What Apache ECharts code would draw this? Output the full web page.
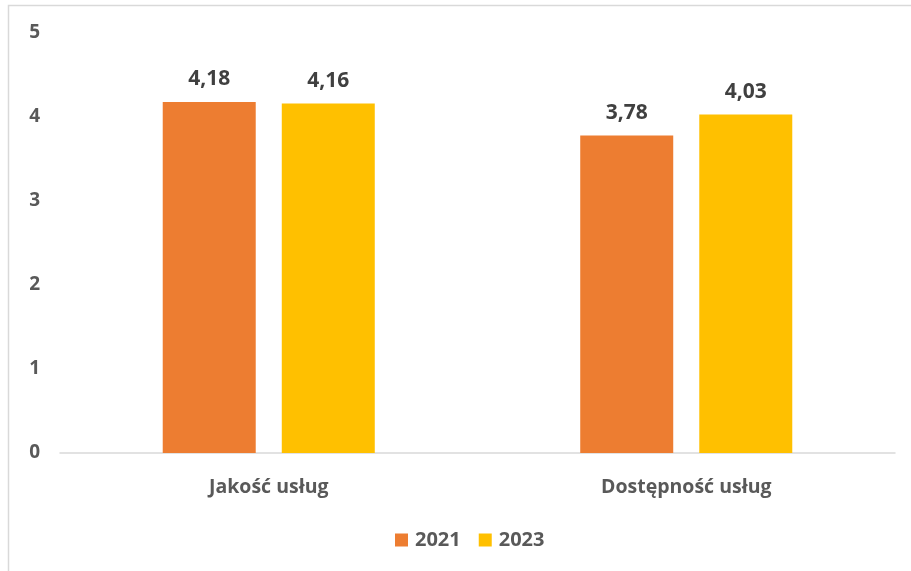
<!DOCTYPE html>
<html>
<head>
<meta charset="utf-8">
<script src="https://cdn.jsdelivr.net/npm/echarts@6/dist/echarts.min.js"></script>
<style>
  html, body { margin: 0; padding: 0; background: #ffffff; }
  #chart { width: 911px; height: 571px; }
</style>
</head>
<body>
<div id="chart"></div>
<script>
// Survey scores by area, two survey years
const categories = ['Jakość usług', 'Dostępność usług'];
const years = ['2021', '2023'];
const values2021 = [4.18, 3.78];
const values2023 = [4.16, 4.03];
const yTicks = [0, 1, 2, 3, 4, 5];

const colors = ['#ED7D31', '#FFC000'];
const fontFamily = '"Open Sans", Lato, sans-serif';

const fmt = v => v.toFixed(2).replace('.', ',');

const chart = echarts.init(document.getElementById('chart'), null, { renderer: 'canvas' });

function barSeries(name, data, color) {
  return {
    name: name,
    type: 'bar',
    data: data,
    barWidth: 93,
    barGap: '28%',
    itemStyle: { color: color },
    label: {
      show: true,
      position: 'top',
      distance: 12,
      color: '#404040',
      fontFamily: fontFamily,
      fontWeight: 'bold',
      fontSize: 21,
      formatter: p => fmt(p.value)
    }
  };
}

chart.setOption({
  animation: false,
  backgroundColor: '#ffffff',
  color: colors,
  graphic: [{
    type: 'rect',
    shape: { x: 8.5, y: 5.5, width: 920, height: 600 },
    style: { fill: 'none', stroke: '#d9d9d9', lineWidth: 1.5 },
    z: -1
  }],
  grid: { left: 60, right: 16, top: 33, bottom: 118 },
  legend: {
    data: years,
    top: 525,
    left: 390,
    icon: 'rect',
    itemWidth: 13,
    itemHeight: 13,
    itemGap: 18,
    textStyle: { color: '#595959', fontFamily: fontFamily, fontWeight: 'bold', fontSize: 20, padding: [0, 0, 0, 2] }
  },
  xAxis: {
    type: 'category',
    data: categories,
    axisLine: { lineStyle: { color: '#d9d9d9', width: 1.5 } },
    axisTick: { show: false },
    axisLabel: {
      margin: 24,
      color: '#595959',
      fontFamily: fontFamily,
      fontWeight: 'bold',
      fontSize: 19.5
    }
  },
  yAxis: {
    type: 'value',
    min: yTicks[0],
    max: yTicks[yTicks.length - 1],
    interval: 1,
    splitLine: { show: false },
    axisLine: { show: false },
    axisTick: { show: false },
    axisLabel: {
      margin: 20,
      color: '#595959',
      fontFamily: fontFamily,
      fontWeight: 'bold',
      fontSize: 19
    }
  },
  series: [
    barSeries(years[0], values2021, colors[0]),
    barSeries(years[1], values2023, colors[1])
  ]
});
</script>
</body>
</html>
